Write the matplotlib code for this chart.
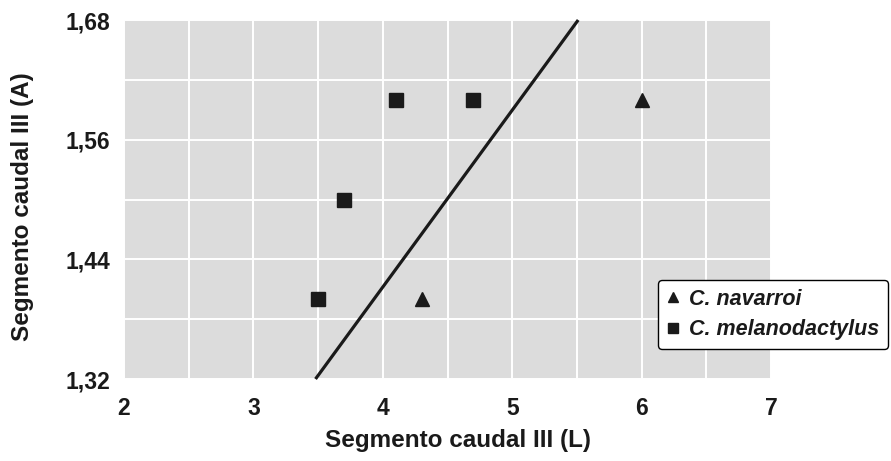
import matplotlib
matplotlib.use("Agg")
import matplotlib.pyplot as plt
import numpy as np

plt.rcParams['font.family'] = ['Liberation Sans', 'DejaVu Sans']

# Data
navarroi_x = [4.3, 6.0]
navarroi_y = [1.40, 1.60]
melano_x = [3.5, 3.7, 4.1, 4.7]
melano_y = [1.40, 1.50, 1.60, 1.60]
line_x = [3.48, 5.51]
line_y = [1.32, 1.68]

x_ticks = [2, 3, 4, 5, 6, 7]
y_ticks = [1.32, 1.44, 1.56, 1.68]
y_ticklabels = ["1,32", "1,44", "1,56", "1,68"]

fig = plt.figure(figsize=(8.91, 4.61), dpi=100)
ax = fig.add_axes([124/891, 1 - 379/461, (771-124)/891, (379-20)/461])
ax.set_facecolor('#dcdcdc')
ax.set_xlim(2, 7)
ax.set_ylim(1.32, 1.68)

ax.set_xticks(np.arange(2, 7.01, 0.5), minor=True)
ax.set_yticks(np.arange(1.32, 1.6801, 0.06), minor=True)
ax.set_xticks(x_ticks)
ax.set_yticks(y_ticks)
ax.set_yticklabels(y_ticklabels)
ax.grid(True, which='both', color='white', lw=1.4)
ax.set_axisbelow(True)
ax.tick_params(which='both', length=0)
ax.tick_params(axis='x', pad=13, labelsize=16.5, labelcolor='#1a1a1a')
ax.tick_params(axis='y', pad=10, labelsize=16.5, labelcolor='#1a1a1a')
for lbl in ax.get_xticklabels() + ax.get_yticklabels():
    lbl.set_fontweight('bold')
for s in ax.spines.values():
    s.set_visible(False)

ax.plot(line_x, line_y, color='#1a1a1a', lw=2.3, solid_capstyle='butt', clip_on=False)
h1, = ax.plot(navarroi_x, navarroi_y, linestyle='none', marker='^', markersize=10,
              color='#1a1a1a', label='C. navarroi', clip_on=False)
h2, = ax.plot(melano_x, melano_y, linestyle='none', marker='s', markersize=9.5,
              color='#1a1a1a', label='C. melanodactylus', clip_on=False)

ax.set_xlabel('Segmento caudal III (L)', fontsize=17.5, fontweight='bold', color='#1a1a1a')
ax.set_ylabel('Segmento caudal III (A)', fontsize=17.5, fontweight='bold', color='#1a1a1a')
ax.xaxis.set_label_coords((458-124)/647, -(440-379)/359)
ax.yaxis.set_label_coords(-(124-22)/647, (379-207)/359)
ax.xaxis.label.set_va('center')
ax.yaxis.label.set_va('center')

leg = fig.legend(handles=[h1, h2], loc='upper left',
                 bbox_to_anchor=(658/891, 1 - 280/461),
                 prop={'size': 15.5, 'weight': 'bold', 'style': 'italic'},
                 frameon=True, fancybox=True, edgecolor='black', framealpha=1,
                 handlelength=0.6, handletextpad=0.45, borderpad=0.4, labelspacing=0.45,
                 markerscale=0.75, borderaxespad=0)
leg.get_frame().set_linewidth(1.0)
for t in leg.get_texts():
    t.set_color('#1a1a1a')

fig.savefig('out.png', dpi=100)
